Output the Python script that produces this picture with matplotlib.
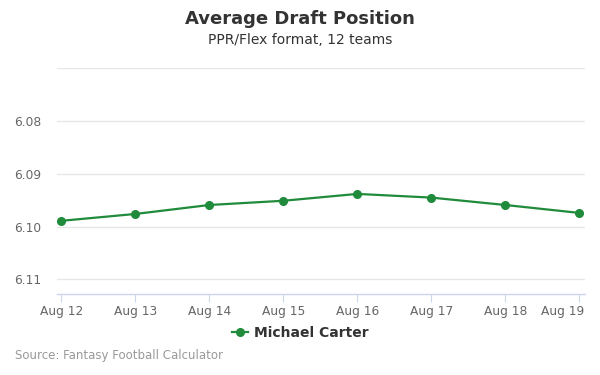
import matplotlib
matplotlib.use("Agg")
import matplotlib.pyplot as plt
import matplotlib.transforms as mtransforms
from matplotlib.lines import Line2D

dates = ["Aug 12", "Aug 13", "Aug 14", "Aug 15", "Aug 16", "Aug 17", "Aug 18", "Aug 19"]
adp = [6.0989, 6.0976, 6.0959, 6.0951, 6.0938, 6.0945, 6.0959, 6.0974]
yticks = [6.07, 6.08, 6.09, 6.10, 6.11]
ytick_labels = ["", "6.08", "6.09", "6.10", "6.11"]
player = "Michael Carter"
color = "#1f8b3b"

fig = plt.figure(figsize=(6, 3.75), dpi=100)
ax = fig.add_axes([0.095, 0.2152, 0.88, 0.6027])
x = list(range(len(dates)))
ax.plot(x, adp, color=color, lw=1.6, marker="o", ms=5.5, zorder=3)
ax.set_xlim(-0.058, 7.077)
ax.set_ylim(6.11282, 6.07)
ax.set_yticks(yticks)
ax.set_yticklabels(ytick_labels)
ax.set_xticks(x)
ax.set_xticklabels(dates)
ax.grid(axis="y", color="#e6e6e6", lw=0.9)
ax.set_axisbelow(True)
for s in ["top", "right", "left"]:
    ax.spines[s].set_visible(False)
ax.spines["bottom"].set_color("#ccd6eb")
ax.spines["bottom"].set_linewidth(1)
ax.tick_params(axis="y", length=0, labelsize=8.8, labelcolor="#666666", pad=11)
ax.tick_params(axis="x", length=6, color="#ccd6eb", labelsize=8.8, labelcolor="#666666", pad=1.5)

# keep last x label inside the plot area, as in the reference
last = ax.get_xticklabels()[-1]
last.set_horizontalalignment("right")
last.set_transform(last.get_transform() + mtransforms.ScaledTranslation(5 / 100, 0, fig.dpi_scale_trans))

fig.text(0.5, 0.949, "Average Draft Position", ha="center", va="center",
         fontsize=13, fontweight="bold", color="#333333")
fig.text(0.5, 0.893, "PPR/Flex format, 12 teams", ha="center", va="center",
         fontsize=10, color="#333333")
fig.text(0.025, 0.051, "Source: Fantasy Football Calculator", ha="left", va="center",
         fontsize=8.5, color="#999999")

handle = Line2D([], [], color=color, lw=1.6, marker="o", ms=5.5)
fig.legend([handle], [player], loc="center", bbox_to_anchor=(0.5, 0.113),
           frameon=False, prop={"size": 10, "weight": "bold"}, labelcolor="#333333",
           handlelength=1.2, handletextpad=0.4)

fig.savefig("out.png", dpi=100)
